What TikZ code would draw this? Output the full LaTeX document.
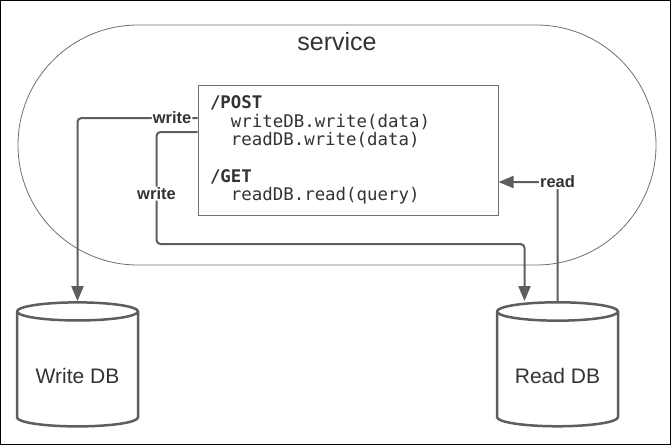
\documentclass[tikz,border=0pt]{standalone}
\usepackage{fontspec}
\setmainfont{Liberation Sans}
\setmonofont{DejaVu Sans Mono}
\usepackage{xcolor}
\usepackage{tikz}
\usetikzlibrary{arrows.meta, positioning, shapes.geometric}

\definecolor{linegray}{HTML}{5E5E5E}
\definecolor{thingray}{HTML}{707070}
\definecolor{textgray}{HTML}{333333}

\begin{document}
\begin{tikzpicture}[
  x=1pt, y=-1pt,
  db/.style={
    draw=linegray,
    line width=2.5pt,
    cylinder,
    shape border rotate=90,
    aspect=0.2,
    minimum width=121pt,
    minimum height=124pt,
    text height=25pt,
    text=textgray,
    font=\fontsize{21}{25}\selectfont
  },
  codebox/.style={
    draw=thingray,
    line width=1pt,
    fill=white,
    minimum width=300pt,
    minimum height=130pt,
    text width=276pt,
    align=left,
    text=textgray,
    font=\ttfamily\fontsize{17.4}{18.4}\selectfont
  },
  lbl/.style={
    fill=white,
    inner sep=1pt,
    text=textgray,
    font=\bfseries\fontsize{16.5}{18}\selectfont
  },
  arrow/.style={
    -{Stealth[inset=0pt, length=15pt, width=12pt]},
    line width=2pt,
    draw=linegray,
    rounded corners=4pt
  }
]
\useasboundingbox (0,0) rectangle (671,445);
\fill[white] (0,0) rectangle (671,445);
\draw[black, line width=1pt] (0.5,0.5) rectangle (670.5,444.5);

% service boundary
\node[draw=thingray, line width=0.8pt, rounded corners=120pt,
  minimum width=638pt, minimum height=240pt] (service) at (337,145) {};
\node[text=textgray, font=\fontsize{25}{30}\selectfont, below=4pt of service.north] (srvname) {service};

% code inside the service
\node[codebox] (code) at (348,150) {%
\textbf{/POST}\\
\phantom{ww}writeDB.write(data)\\
\phantom{ww}readDB.write(data)\\[18.4pt]
\textbf{/GET}\\
\phantom{ww}readDB.read(query)};

% databases
\node[db] (writedb) at (77.5,371) {Write DB};
\node[db] (readdb) at (557.5,371) {Read DB};

% connections
\draw[arrow] ([yshift=32pt]code.west) -| node[lbl, pos=0.106] {write} (writedb.north);
\draw[arrow] ([yshift=18pt]code.west) -- ++(-41,0)
  -- node[lbl, pos=0.55] {write} ++(0,112) -| ([xshift=-33pt]readdb.north);
\draw[arrow] (readdb.north) |- node[lbl, pos=0.5] {read} ([yshift=-32pt]code.east);
\end{tikzpicture}
\end{document}
